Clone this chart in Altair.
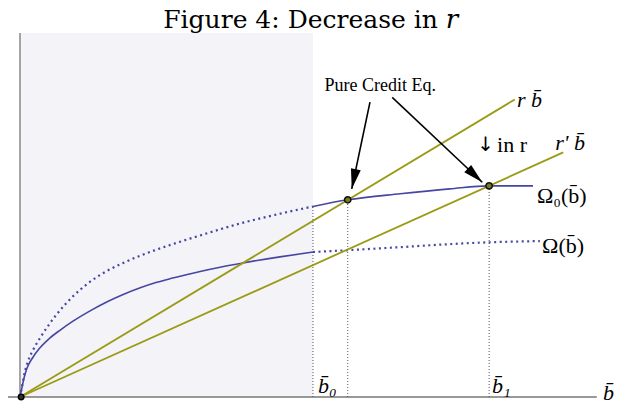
import math
import altair as alt
import pandas as pd

# ---------------- data ----------------
# Omega_0(b): upper curve, dotted part then solid part
om0_dot_x = [0, 0.035, 0.07, 0.14, 0.25, 0.37, 0.49, 0.65, 0.93, 1.23, 1.53, 1.81, 2.11, 2.40, 2.68, 2.98, 3.39, 3.86, 4.33, 4.74, 5.14]
om0_dot_y = [0, 0.17, 0.35, 0.59, 0.81, 1.00, 1.17, 1.37, 1.66, 1.90, 2.08, 2.21, 2.33, 2.43, 2.52, 2.61, 2.73, 2.86, 2.97, 3.06, 3.14]
om0_sol_x = [5.14, 5.75, 6.67, 7.54, 8.23, 9.00]
om0_sol_y = [3.14, 3.25, 3.35, 3.43, 3.48, 3.48]

# Omega(b): lower curve, solid part then dotted part
om_sol_x = [0, 0.035, 0.07, 0.12, 0.21, 0.35, 0.51, 0.70, 0.93, 1.23, 1.53, 1.81, 2.11, 2.40, 2.68, 3.16, 3.51, 3.91, 4.56, 5.14]
om_sol_y = [0, 0.16, 0.31, 0.47, 0.63, 0.81, 0.96, 1.10, 1.25, 1.42, 1.57, 1.69, 1.80, 1.89, 1.96, 2.07, 2.14, 2.21, 2.31, 2.39]
om_dot_x = [5.14, 5.75, 6.67, 7.54, 8.23, 9.12]
om_dot_y = [2.39, 2.42, 2.47, 2.52, 2.55, 2.57]

# straight lines r*b and r'*b
r_rate = 0.565
r_prime_rate = 0.423
r_end = 8.68
r_prime_end = 9.53

b0 = 5.14
eq_x = [5.75, 8.23]
eq_y = [3.25, 3.48]

# arrows: start and tip
arrow_x0 = [6.14, 6.53]
arrow_y0 = [4.86, 4.94]
arrow_x1 = [5.82, 8.11]
arrow_y1 = [3.43, 3.54]

X_MAX, Y_MAX = 10.0, 6.0
W, H = 570, 364

BLUE = "#4646a3"
OLIVE = "#9a9a14"
SERIF = "Liberation Serif"
OB = "b\u0304"

xs = alt.Scale(domain=[0, X_MAX], nice=False, zero=False)
ys = alt.Scale(domain=[0, Y_MAX], nice=False, zero=False)


def X(f="x"):
    return alt.X(f"{f}:Q", scale=xs, axis=None)


def Y(f="y"):
    return alt.Y(f"{f}:Q", scale=ys, axis=None)


# shaded region
shade = alt.Chart(pd.DataFrame({"x": [0], "x2": [b0], "y": [0], "y2": [Y_MAX]})).mark_rect(
    color="#f3f3f8"
).encode(x=X(), x2="x2:Q", y=Y(), y2="y2:Q")

# axes lines
axes_df = pd.DataFrame({"x": [-0.21, 0], "x2": [10.12, 0], "y": [0, 0], "y2": [0, Y_MAX]})
axes = alt.Chart(axes_df).mark_rule(color="#777777", strokeWidth=1.3).encode(
    x=X(), x2="x2:Q", y=Y(), y2="y2:Q"
)

# vertical dotted guides
vd = pd.DataFrame({"x": [b0, eq_x[0], eq_x[1]], "y": [0, 0, 0], "y2": [om0_sol_y[0], eq_y[0], eq_y[1]]})
vlines = alt.Chart(vd).mark_rule(color="#555566", strokeWidth=1, strokeDash=[1, 2]).encode(
    x=X(), y=Y(), y2="y2:Q"
)


def curve(xv, yv, dotted):
    df = pd.DataFrame({"x": xv, "y": yv})
    if dotted:
        m = alt.Chart(df).mark_line(color=BLUE, strokeWidth=2.2, strokeDash=[2, 3.5],
                                    strokeCap="butt", interpolate="monotone")
    else:
        m = alt.Chart(df).mark_line(color=BLUE, strokeWidth=1.6, interpolate="monotone")
    return m.encode(x=X(), y=Y(), order="x:Q")


c1 = curve(om0_dot_x, om0_dot_y, True)
c2 = curve(om0_sol_x, om0_sol_y, False)
c3 = curve(om_sol_x, om_sol_y, False)
c4 = curve(om_dot_x, om_dot_y, True)

lines_df = pd.DataFrame({
    "x": [0, 0], "y": [0, 0],
    "x2": [r_end, r_prime_end],
    "y2": [r_rate * r_end, r_prime_rate * r_prime_end],
})
rlines = alt.Chart(lines_df).mark_rule(color=OLIVE, strokeWidth=1.8).encode(
    x=X(), y=Y(), x2="x2:Q", y2="y2:Q"
)

# equilibrium markers
eq = alt.Chart(pd.DataFrame({"x": eq_x, "y": eq_y})).mark_point(
    shape="circle", size=40, filled=True, fill="#7a7a20", stroke="#111111", strokeWidth=1.5, opacity=1
).encode(x=X(), y=Y())
orig = alt.Chart(pd.DataFrame({"x": [0.02], "y": [0]})).mark_point(
    shape="circle", size=30, filled=True, fill="#333333", stroke="#000000", strokeWidth=1.5, opacity=1
).encode(x=X(), y=Y())

# arrows
arr_df = pd.DataFrame({"x": arrow_x0, "y": arrow_y0, "x2": arrow_x1, "y2": arrow_y1})
ppx, ppy = W / X_MAX, H / Y_MAX
arr_df["angle"] = [
    math.degrees(math.atan2((x1 - x0) * ppx, (y1 - y0) * ppy)) % 360
    for x0, y0, x1, y1 in zip(arrow_x0, arrow_y0, arrow_x1, arrow_y1)
]
arr_lines = alt.Chart(arr_df).mark_rule(color="#000000", strokeWidth=1.6).encode(
    x=X(), y=Y(), x2="x2:Q", y2="y2:Q"
)
arr_heads = alt.Chart(arr_df).mark_point(
    shape="M0,0L0.5,2L-0.5,2Z", size=400, filled=True, color="#000000", opacity=1
).encode(x=X("x2"), y=Y("y2"), angle=alt.Angle("angle:Q", scale=None))


def label(texts, xv, yv, size, style="normal", align="left", baseline="middle", font=SERIF):
    df = pd.DataFrame({"x": xv, "y": yv, "t": texts})
    return alt.Chart(df).mark_text(
        font=font, fontSize=size, fontStyle=style, align=align, baseline=baseline, color="#000000"
    ).encode(x=X(), y=Y(), text="t:N")


labels = [
    label(["Figure 4: Decrease in"], [7.33], [6.08], 25, align="right", baseline="alphabetic", font="DejaVu Serif"),
    label(["r"], [7.47], [6.08], 26, style="italic", baseline="alphabetic", font="DejaVu Serif"),
    label(["Pure Credit Eq."], [6.32], [5.13], 18, align="center"),
    label(["r " + OB, "r' " + OB], [8.72, 9.39], [4.90, 4.19], 22, style="italic"),
    label(["\u2193"], [8.17], [4.15], 20, align="center", font="DejaVu Sans"),
    label(["in r"], [8.37], [4.15], 22),
    label(["\u03a9\u2080(" + OB + ")", "\u03a9(" + OB + ")"], [9.07, 9.16], [3.20, 2.37], 22, baseline="alphabetic"),
    label([OB + "\u2080", OB + "\u2081"], [5.23, 8.28], [0.07, 0.07], 22, style="italic", baseline="alphabetic"),
    label([OB], [10.23], [-0.05], 22, style="italic", baseline="alphabetic"),
]

chart = alt.layer(
    shade, axes, vlines, c1, c2, c3, c4, rlines, arr_lines, arr_heads, eq, orig, *labels
).properties(
    width=W, height=H,
    autosize=alt.AutoSizeParams(type="none"),
    padding={"left": 12, "top": 25, "right": 41, "bottom": 5},
).configure_view(stroke=None)

chart.save("out.html", embed_options={"renderer": "svg", "actions": False})
